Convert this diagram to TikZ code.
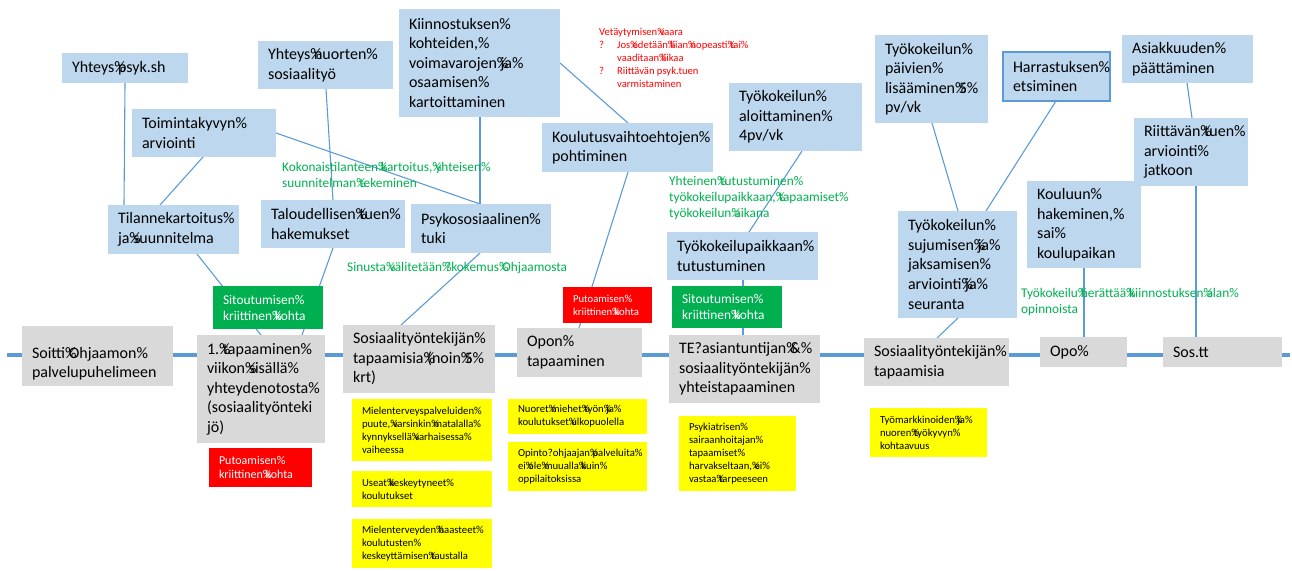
\documentclass[tikz,border=0pt]{standalone}
\usepackage{fontspec}
\setmainfont{Carlito}
\usetikzlibrary{calc}
\definecolor{boxblue}{HTML}{BDD7EE}
\definecolor{boxgray}{HTML}{D9D9D9}
\definecolor{okgreen}{HTML}{00B050}
\definecolor{alertred}{HTML}{FF0000}
\definecolor{noteyellow}{HTML}{FFFF00}
\definecolor{linkblue}{HTML}{5B9BD5}
\pgfdeclarelayer{background}
\pgfsetlayers{background,main}
\hyphenpenalty=10000
\exhyphenpenalty=10000
% a space printed as a percent sign with the next glyph overlapping it
\newcommand\pc{\rlap{\%}\nobreak\hskip\fontdimen2\font\relax}
% \bx{style}{name}{left}{top}{width}{height}{text}
\newcommand\bx[7]{\pgfmathsetmacro\bxtw{#5-20}%
  \node[#1,anchor=north west,minimum width=#5,minimum height=#6,text width=\bxtw pt] (#2) at (#3,#4) {#7};}
\tikzset{
  basebox/.style={inner xsep=10pt, inner ysep=0pt, align=left, outer sep=0pt},
  bluebox/.style={basebox, fill=boxblue, font=\fontsize{16}{19.5}\selectfont},
  graybox/.style={basebox, fill=boxgray, font=\fontsize{16}{19.5}\selectfont},
  keybox/.style={basebox, fill=okgreen, text=white, font=\fontsize{13.4}{16}\selectfont},
  dropbox/.style={basebox, fill=alertred, text=white, font=\fontsize{10.7}{13}\selectfont},
  notebox/.style={basebox, fill=noteyellow, font=\fontsize{10.7}{13}\selectfont},
  % free notes are placed by the baseline of their last line
  greennote/.style={text=okgreen, align=left, inner sep=0pt, anchor=base west, font=\fontsize{13.3}{16}\selectfont},
  rednote/.style={text=alertred, align=left, inner sep=0pt, anchor=base west, font=\fontsize{10.6}{13}\selectfont},
  link/.style={draw=linkblue, line width=1.1pt},
  timeline/.style={draw=linkblue, line width=4pt},
}
\begin{document}
\begin{tikzpicture}[x=1pt,y=-1pt]
\path[use as bounding box] (0,0) rectangle (1292,570);

% service path along the timeline
\bx{graybox}{g1}{22}{326}{151}{60}{\rule{0pt}{27pt}Soitti\pc Ohjaamon\%\\palvelupuhelimeen}
\bx{graybox}{g2}{197}{335}{128}{108}{1.\pc tapaaminen\%\\viikon\pc sisällä\%\\yhteydenotosta\%\\(sosiaalityönteki\\jö)}
\bx{graybox}{g3}{343}{325}{152}{68}{Sosiaalityöntekijän\%\\tapaamisia\pc (noin\pc 5\%\\krt)}
\bx{graybox}{g4}{517}{328}{125}{49}{Opon\%\\tapaaminen}
\bx{graybox}{g5}{669}{335}{151}{68}{TE?asiantuntijan\pc \&\%\\sosiaalityöntekijän\%\\yhteistapaaminen}
\bx{graybox}{g6}{864}{338}{145}{48}{Sosiaalityöntekijän\%\\tapaamisia}
\bx{graybox}{g7}{1040}{337}{87}{30}{Opo\%}
\bx{graybox}{g8}{1163}{337}{119}{30}{Sos.tt}

% actions
\bx{bluebox}{b1}{62}{53}{126}{30}{Yhteys\pc psyk.sh}
\bx{bluebox}{b2}{258}{41}{135}{48}{Yhteys\pc nuorten\%\\sosiaalityö}
\bx{bluebox}{b3}{132}{109}{144}{48}{Toimintakyvyn\%\\arviointi}
\bx{bluebox}{b4}{399}{9}{161}{108}{Kiinnostuksen\%\\kohteiden,\%\\voimavarojen\pc ja\%\\osaamisen\%\\kartoittaminen}
\bx{bluebox}{b5}{542}{123}{171}{49}{Koulutusvaihtoehtojen\%\\pohtiminen}
\bx{bluebox}{b6}{729}{83}{133}{68}{Työkokeilun\%\\aloittaminen\%\\4pv/vk}
\bx{bluebox}{b7}{875}{35}{113}{88}{Työkokeilun\%\\päivien\%\\lisääminen\pc 5\%\\pv/vk}
\bx{bluebox,draw=linkblue,line width=1.2pt}{b8}{1003}{52}{107}{49}{Harrastuksen\%\\etsiminen}
\bx{bluebox}{b9}{1122}{35}{131}{48}{Asiakkuuden\%\\päättäminen}
\bx{bluebox}{b11}{1027}{181}{114}{87}{Kouluun\%\\hakeminen,\%\\sai\%\\koulupaikan}
\bx{bluebox}{b10}{1134}{118}{114}{68}{Riittävän\pc tuen\%\\arviointi\%\\jatkoon}
\bx{bluebox}{b12}{898}{211}{119}{107}{Työkokeilun\%\\sujumisen\pc ja\%\\jaksamisen\%\\arviointi\pc ja\%\\seuranta}
\bx{bluebox}{b13}{667}{232}{151}{48}{Työkokeilupaikkaan\%\\tutustuminen}
\bx{bluebox}{b14}{411}{204}{140}{49}{Psykososiaalinen\%\\tuki}
\bx{bluebox}{b15}{261}{200}{144}{48}{Taloudellisen\pc tuen\%\\hakemukset}
\bx{bluebox}{b16}{108}{205}{131}{49}{Tilannekartoitus\%\\ja\pc suunnitelma}

% critical points
\bx{keybox}{s1}{213}{286}{110}{43}{Sitoutumisen\%\\kriittinen\pc kohta}
\bx{keybox}{s2}{672}{286}{110}{42}{Sitoutumisen\%\\kriittinen\pc kohta}
\bx{dropbox}{r1}{563}{287}{89}{36}{Putoamisen\%\\kriittinen\pc kohta}
\bx{dropbox,font=\fontsize{12}{14}\selectfont}{r2}{209}{448}{103}{39}{Putoamisen\%\\kriittinen\pc kohta}

% observations
\bx{notebox}{y1}{352}{399}{140}{62}{Mielenterveyspalveluiden\%\\puute,\pc varsinkin\pc matalalla\%\\kynnyksellä\pc varhaisessa\%\\vaiheessa}
\bx{notebox}{y2}{352}{471}{140}{36}{Useat\pc keskeytyneet\%\\koulutukset}
\bx{notebox}{y3}{352}{519}{140}{49}{Mielenterveyden\pc haasteet\%\\koulutusten\%\\keskeyttämisen\pc taustalla}
\bx{notebox}{y4}{508}{399}{139}{35}{Nuoret\pc miehet\pc työn\pc ja\%\\koulutukset\pc ulkopuolella}
\bx{notebox}{y5}{508}{442}{139}{49}{Opinto?ohjaajan\pc palveluita\%\\ei\pc ole\pc muualla\pc kuin\%\\oppilaitoksissa}
\bx{notebox}{y6}{679}{416}{117}{75}{Psykiatrisen\%\\sairaanhoitajan\%\\tapaamiset\%\\harvakseltaan,\pc ei\%\\vastaa\pc tarpeeseen}
\bx{notebox}{y7}{870}{408}{117}{49}{Työmarkkinoiden\pc ja\%\\nuoren\pc työkyvyn\%\\kohtaavuus}

% notes
\node[greennote] (n1) at (282,187) {Kokonaistilanteen\pc kartoitus,\pc yhteisen\%\\suunnitelman\pc tekeminen};
\node[greennote] (n2) at (347,271) {Sinusta\pc välitetään\pc ?kokemus\pc Ohjaamosta};
\node[greennote] (n3) at (669,217) {Yhteinen\pc tutustuminen\%\\työkokeilupaikkaan,\pc tapaamiset\%\\työkokeilun\pc aikana};
\node[greennote] (n4) at (1021,313) {Työkokeilu\pc herättää\pc kiinnostuksen\pc alan\%\\opinnoista};
\node[rednote] (n5) at (599,87) {Vetäytymisen\pc vaara\\
  \makebox[18pt][l]{?}Jos\pc edetään\pc liian\pc nopeasti\pc tai\%\\
  \hspace*{18pt}vaaditaan\pc liikaa\\
  \makebox[18pt][l]{?}Riittävän psyk.tuen\\
  \hspace*{18pt}varmistaminen};

\begin{pgfonlayer}{background}
  \coordinate (tl0) at (7,355);
  \coordinate (tl1) at (1290,355);
  \draw[timeline] (tl0) -- (tl1);
  \draw[link] ([xshift=63]b1.south west) -- ([xshift=16]b16.north west);
  \draw[link] ([xshift=71]b3.south west) -- ([xshift=52]b16.north west);
  \draw[link] (b3.east) -- ([xshift=69]b14.north west);
  \draw[link] ([xshift=68]b2.south west) -- ([xshift=72]b15.north west);
  \draw[link] ([xshift=81]b4.south west) -- ([xshift=69]b14.north west);
  \draw[link] (b4.east) -- ([xshift=86]b5.north west);
  \draw[link] ([xshift=89]b16.south west) -- ([xshift=64]g2.north west);
  \draw[link] ([xshift=72]b15.south west) -- ([xshift=105]g2.north west);
  \draw[link] ([xshift=69]b14.south west) -- ([xshift=58]g3.north west);
  \draw[link] ([xshift=86]b5.south west) -- ([xshift=62]g4.north west);
  \draw[link] ([xshift=73]b6.south west) -- ([xshift=82]b13.north west);
  \draw[link] ([xshift=76]b13.south west) -- ([xshift=74]g5.north west);
  \draw[link] ([xshift=57]b7.south west) -- ([xshift=60]b12.north west);
  \draw[link] ([xshift=53]b8.south west) -- ([xshift=88]b12.north west);
  \draw[link] ([xshift=60]b12.south west) -- ([xshift=73]g6.north west);
  \draw[link] ([xshift=57]b11.south west) -- ([xshift=44]g7.north west);
  \draw[link] ([xshift=65]b9.south west) -- ([xshift=58]b10.north west);
  \draw[link] ([xshift=62]b10.south west) -- ([xshift=33]g8.north west);
\end{pgfonlayer}
\end{tikzpicture}
\end{document}
